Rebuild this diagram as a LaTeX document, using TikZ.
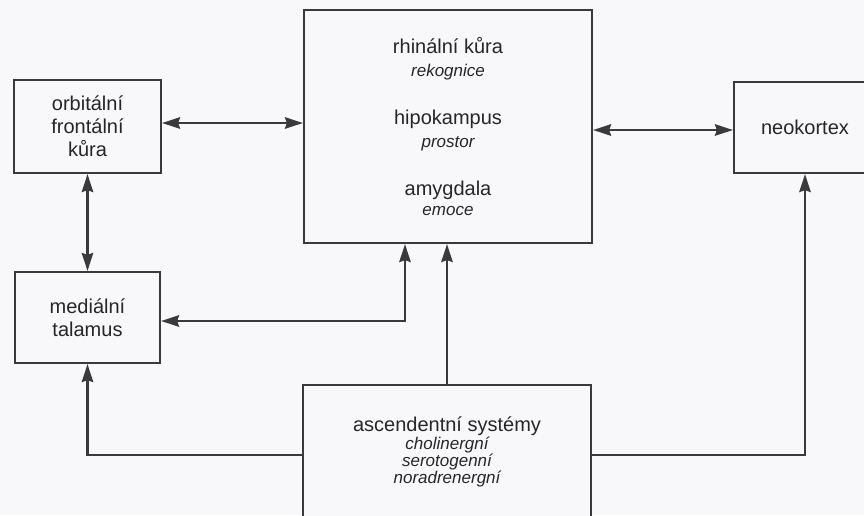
\documentclass[tikz,border=0pt]{standalone}
\usepackage{fontspec}
\setmainfont{Liberation Sans}
\usetikzlibrary{arrows.meta}
\definecolor{ink}{HTML}{3A3A3C}
\definecolor{txt}{HTML}{262628}
\definecolor{paper}{HTML}{F8F8FA}
\tikzset{
  box/.style={draw=ink, line width=2.2pt, fill=paper, inner sep=0pt, align=center,
    text=txt, font=\fontsize{20}{23}\selectfont},
  tip/.tip={Stealth[length=18pt,width=11.5pt,inset=2pt]},
  conn/.style={draw=ink, line width=2.2pt, -tip},
  biconn/.style={draw=ink, line width=2.2pt, tip-tip},
  mainlbl/.style={text=txt, font=\fontsize{20}{23}\selectfont, inner sep=0pt, anchor=base},
  itlbl/.style={text=txt, font=\fontsize{17}{19}\selectfont\itshape, inner sep=0pt, anchor=base},
}
\begin{document}
\begin{tikzpicture}[x=1pt,y=-1pt]
\useasboundingbox[fill=paper] (0,0) rectangle (864,515);
\clip (0,0) rectangle (864,515);

% boxes
\node[box, minimum width=147pt, minimum height=93pt] (orb) at (87.5,126.5) {orbitální\\frontální\\kůra};
\node[box, minimum width=145pt, minimum height=91pt] (med) at (87.5,317.5) {mediální\\talamus};
\node[box, minimum width=288pt, minimum height=233pt] (big) at (448,126.5) {};
\node[box, minimum width=142pt, minimum height=91pt] (neo) at (805,127.5) {neokortex};
\node[box, minimum width=288pt, minimum height=160pt] (asc) at (447,465) {};

% texts in the big box
\node[mainlbl] (t1) at (448,53.5) {rhinální kůra};
\node[itlbl]   (t2) at (448,76) {rekognice};
\node[mainlbl] (t3) at (448,124) {hipokampus};
\node[itlbl]   (t4) at (448,147.5) {prostor};
\node[mainlbl] (t5) at (448,195) {amygdala};
\node[itlbl]   (t6) at (448,215.5) {emoce};

% texts in the ascending systems box
\node[mainlbl] (a1) at (447,431.5) {ascendentní systémy};
\node[itlbl]   (a2) at (447,449.5) {cholinergní};
\node[itlbl]   (a3) at (447,466.5) {serotogenní};
\node[itlbl]   (a4) at (447,483.5) {noradrenergní};

% connectors
\draw[biconn] ([yshift=3.5pt]orb.east) -- ([yshift=3.5pt]orb.east -| big.west);
\draw[biconn] ([yshift=-3.5pt]big.east) -- ([yshift=-3.5pt]big.east -| neo.west);
\draw[biconn] (orb.south) -- (med.north);
\draw[biconn] ([yshift=-3.5pt]med.east) -| ([xshift=-43pt]big.south);
\draw[conn] (asc.north) -- (asc.north |- big.south);
\draw[conn] ([yshift=-71pt]asc.north west) -| (med.south);
\draw[conn] ([yshift=-71pt]asc.north east) -| (neo.south);
\end{tikzpicture}
\end{document}
